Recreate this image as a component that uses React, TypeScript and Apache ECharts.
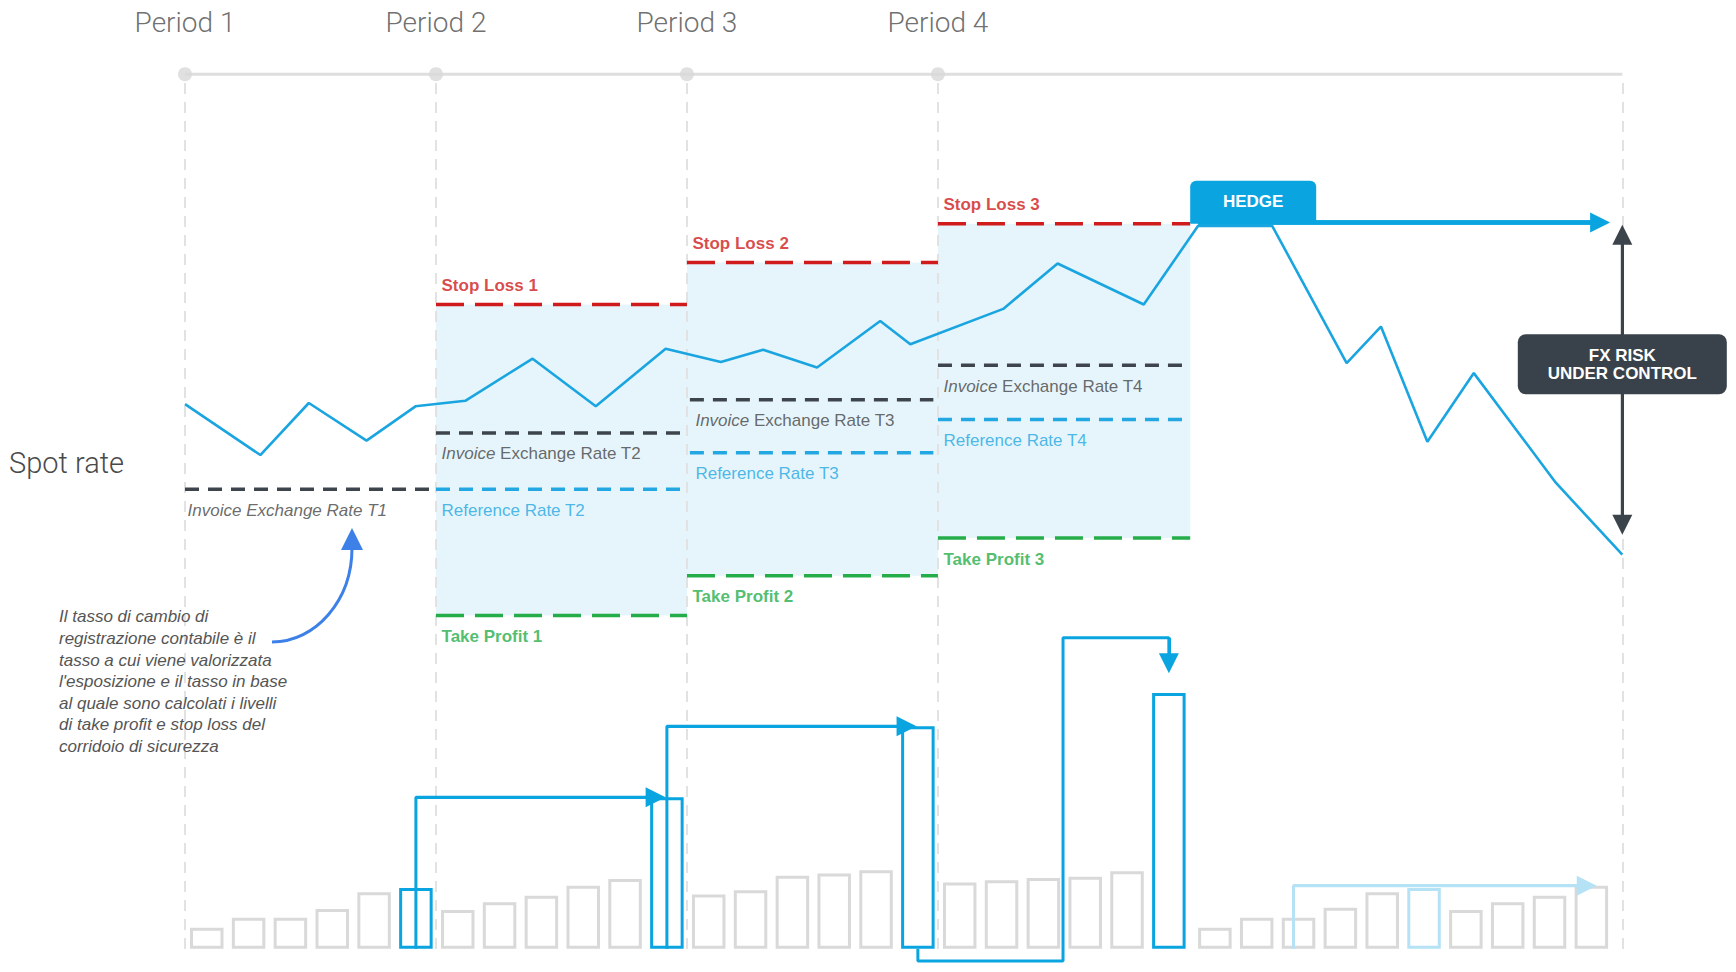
import React, { useEffect, useRef } from "react";
import * as echarts from "echarts";

const W = 1736;
const H = 972;

// hidden axes span the whole canvas
const TIME_MIN = -4.4226;
const TIME_MAX = 37.078;
const RATE_MIN = 1.056405;
const RATE_MAX = 1.1442;
const VOL_MIN = -20.95;
const VOL_MAX = 857;

// ---------- data ----------
const periodLabels = ["Period 1", "Period 2", "Period 3", "Period 4"];
const periodStarts = [0, 6, 12, 18];
const hedgeTime = 24.03;
const horizonEnd = 34.36;
const timelineRate = 1.1375;
const guideTop = 1.1367;
const guideBottom = 1.058;

const spotTimes = [0, 1.8, 2.96, 4.34, 5.51, 6.7, 8.31, 9.82, 11.49, 12.81, 13.82, 15.11, 16.62, 17.34, 19.56, 20.86, 22.92, 24.22, 25.99, 27.77, 28.59, 29.7, 30.81, 32.77, 34.36];
const spotRates = [1.1077, 1.1031, 1.1078, 1.1044, 1.1075, 1.108, 1.1118, 1.1075, 1.1127, 1.1115, 1.1126, 1.111, 1.1152, 1.1131, 1.1163, 1.1204, 1.1167, 1.1238, 1.1238, 1.1114, 1.1147, 1.1043, 1.1105, 1.1006, 1.0941];

const invoiceRates = [1.1, 1.1051, 1.1081, 1.1112]; // T1..T4
const invoiceWindows = [[0, 5.85], [6, 11.86], [12.07, 17.89], [18, 23.9]];
const referenceRates = [1.1, 1.1033, 1.1063]; // T2..T4
const referenceWindows = [[6, 11.86], [12.07, 17.89], [18, 23.9]];
const stopLossRates = [1.1167, 1.1205, 1.124];
const takeProfitRates = [1.0886, 1.0922, 1.0956];
const corridorWindows = [[6, 12], [12, 18], [18, 24.03]];

const volumesBeforeHedge = [19, 28, 28, 36, 51, 55, 35, 42, 48, 57, 63, 137, 49, 53, 66, 68, 71, 201, 60, 62, 64, 65, 70, 231];
const volumesAfterHedge = [19, 28, 28, 37, 51, 55, 35, 42, 48, 57];
const rolloverBars = [5, 11, 17, 23];
const previewBar = 5;

const rollover1 = [[5.52, 0], [5.52, 137], [11.25, 137]];
const rollover2 = [[11.52, 0], [11.52, 201], [17.25, 201]];
const rollover3 = [[17.52, 0], [17.52, -11], [20.99, -11], [20.99, 281], [23.52, 281], [23.52, 258]];
const rolloverPreview = [[26.5, 0], [26.5, 57], [33.51, 57]];

const hedgeArrow = [[24.22, 1.1241], [33.83, 1.1241]];
const riskArrow = [[34.36, 1.0968], [34.36, 1.123]];
const fxBoxRate = 1.1113;

const noteLines = [
  "Il tasso di cambio di",
  "registrazione contabile è il",
  "tasso a cui viene valorizzata",
  "l'esposizione e il tasso in base",
  "al quale sono calcolati i livelli",
  "di take profit e stop loss del",
  "corridoio di sicurezza",
];

// ---------- colours ----------
const BLUE = "#0aa5e0";
const SPOT = "#1aa5e0";
const RED = "#cf1b1b";
const GREEN = "#25ad4a";
const DARK = "#3d444c";
const REF = "#22a7e2";
const GRAY_BAR = "#d9d9d9";
const LIGHT_BLUE = "#b5e2f5";
const FONT = '"Liberation Sans", Arial, sans-serif';

function levelSeries(name: string, windows: number[][], values: number[], color: string, dash: number[]) {
  return values.map((v, i) => ({
    type: "line",
    name: `${name} ${i}`,
    silent: true,
    z: 3,
    data: [[windows[i][0], v], [windows[i][1], v]],
    symbol: "none",
    lineStyle: { color, width: 3.5, type: dash },
  }));
}

function arrowSeries(pts: number[][], color: string, width: number, yAxisIndex: number, both = false) {
  const seg = both ? [pts[0], pts[1]] : [pts[pts.length - 2], pts[pts.length - 1]];
  return {
    type: "line",
    silent: true,
    z: 5,
    yAxisIndex,
    data: pts,
    symbol: "none",
    lineStyle: { color, width },
    markLine: {
      silent: true,
      symbol: both ? ["triangle", "triangle"] : ["none", "triangle"],
      symbolSize: 20,
      label: { show: false },
      emphasis: { disabled: true },
      lineStyle: { color, width, type: "solid" },
      data: [[{ coord: seg[0] }, { coord: seg[1] }]],
    },
  };
}

export default function App() {
  const ref = useRef<HTMLDivElement>(null);

  useEffect(() => {
    document.body.style.margin = "0";
    const chart = echarts.init(ref.current!, null, { renderer: "svg", width: W, height: H });

    const guideTimes = [...periodStarts, horizonEnd];

    const labelData: any[] = [];
    stopLossRates.forEach((r, i) =>
      labelData.push({
        value: [corridorWindows[i][0] + 0.12, r],
        label: { formatter: `Stop Loss ${i + 1}`, color: RED, fontWeight: "bold", offset: [0, -19] },
      })
    );
    invoiceRates.forEach((r, i) =>
      labelData.push({
        value: [i === 0 ? 0.05 : invoiceWindows[i][0] + 0.12, r],
        label:
          i === 0
            ? { formatter: "Invoice Exchange Rate T1", color: "#444", fontStyle: "italic", offset: [0, 21] }
            : {
                formatter: `{i|Invoice} Exchange Rate T${i + 1}`,
                color: "#444",
                offset: [0, 21],
                rich: { i: { fontStyle: "italic", fontSize: 17, fontFamily: FONT, color: "#444" } },
              },
      })
    );
    referenceRates.forEach((r, i) =>
      labelData.push({
        value: [referenceWindows[i][0] + 0.12, r],
        label: { formatter: `Reference Rate T${i + 2}`, color: REF, offset: [0, 21] },
      })
    );
    takeProfitRates.forEach((r, i) =>
      labelData.push({
        value: [corridorWindows[i][0] + 0.12, r],
        label: { formatter: `Take Profit ${i + 1}`, color: GREEN, fontWeight: "bold", offset: [0, 21] },
      })
    );

    const barData: any[] = [];
    volumesBeforeHedge.forEach((v, i) => {
      const hi = rolloverBars.includes(i);
      barData.push({
        value: [i + 0.52, v],
        itemStyle: { color: "rgba(0,0,0,0)", borderColor: hi ? BLUE : GRAY_BAR, borderWidth: 3 },
      });
    });
    volumesAfterHedge.forEach((v, i) => {
      barData.push({
        value: [24.62 + i, v],
        itemStyle: { color: "rgba(0,0,0,0)", borderColor: i === previewBar ? LIGHT_BLUE : GRAY_BAR, borderWidth: 3 },
      });
    });

    const series: any[] = [
      {
        type: "line",
        name: "timeline",
        silent: true,
        z: 1,
        data: [[periodStarts[0], timelineRate], [horizonEnd, timelineRate]],
        symbol: "none",
        lineStyle: { color: "#dedede", width: 3 },
        markArea: {
          silent: true,
          itemStyle: { color: "#e6f5fb" },
          emphasis: { disabled: true },
          data: corridorWindows.map((w, i) => [
            { coord: [w[0], stopLossRates[i]] },
            { coord: [w[1], takeProfitRates[i]] },
          ]),
        },
        markLine: {
          silent: true,
          z: 2,
          symbol: ["none", "none"],
          label: { show: false },
          emphasis: { disabled: true },
          lineStyle: { color: "#e2e2e2", width: 2, type: [11, 8] },
          data: guideTimes.map((t) => [{ coord: [t, guideTop] }, { coord: [t, guideBottom] }]),
        },
      },
      {
        type: "scatter",
        name: "periods",
        silent: true,
        z: 3,
        data: periodStarts.map((t, i) => ({ value: [t, timelineRate], name: periodLabels[i] })),
        symbolSize: 14,
        itemStyle: { color: "#d8d8d8" },
        label: {
          show: true,
          position: "inside",
          offset: [0, -52],
          formatter: "{b}",
          color: "#4a4a4a",
          fontFamily: "Roboto",
          fontWeight: 300,
          fontSize: 28,
        },
      },
      ...levelSeries("stopLoss", corridorWindows, stopLossRates, RED, [28, 11]),
      ...levelSeries("takeProfit", corridorWindows, takeProfitRates, GREEN, [28, 11]),
      ...levelSeries("invoice", invoiceWindows, invoiceRates, DARK, [14, 9]),
      ...levelSeries("reference", referenceWindows, referenceRates, REF, [14, 9]),
      {
        type: "line",
        name: "Spot rate",
        silent: true,
        z: 4,
        data: spotTimes.map((t, i) => [t, spotRates[i]]),
        symbol: "none",
        lineStyle: { color: SPOT, width: 2.6 },
      },
      {
        type: "scatter",
        name: "labels",
        silent: true,
        z: 6,
        symbolSize: 1,
        itemStyle: { color: "rgba(0,0,0,0)" },
        label: { show: true, position: "right", distance: 0, fontFamily: FONT, fontSize: 17 },
        data: labelData,
      },
      {
        type: "bar",
        name: "volumes",
        silent: true,
        z: 2,
        yAxisIndex: 1,
        barWidth: 33.5,
        data: barData,
      },
      arrowSeries(rollover1, BLUE, 3, 1),
      arrowSeries(rollover2, BLUE, 3, 1),
      arrowSeries(rollover3, BLUE, 3, 1),
      arrowSeries(rolloverPreview, LIGHT_BLUE, 3, 1),
      arrowSeries(hedgeArrow, BLUE, 4.5, 0),
      arrowSeries(riskArrow, "#3b434b", 3, 0, true),
    ];

    chart.setOption({
      animation: false,
      backgroundColor: "#ffffff",
      tooltip: { show: false },
      grid: { left: 0, right: 0, top: 0, bottom: 0, containLabel: false },
      xAxis: { type: "value", min: TIME_MIN, max: TIME_MAX, show: false },
      yAxis: [
        { type: "value", min: RATE_MIN, max: RATE_MAX, show: false },
        { type: "value", min: VOL_MIN, max: VOL_MAX, show: false },
      ],
      series,
    });

    const px = (t: number, r: number) => chart.convertToPixel({ gridIndex: 0 }, [t, r]) as number[];
    const hb = px(hedgeTime, stopLossRates[2]);
    const fx = px(horizonEnd, fxBoxRate);

    chart.setOption({
      graphic: [
        {
          type: "text",
          z: 100,
          x: 9,
          y: 463,
          style: { text: "Spot rate", fill: "#4a4a4a", font: "300 29px Roboto", verticalAlign: "middle" },
        },
        {
          type: "text",
          z: 100,
          x: 59,
          y: 606,
          style: {
            text: noteLines.join("\n"),
            fill: "#555",
            font: `italic 17px ${FONT}`,
            lineHeight: 21.6,
            verticalAlign: "top",
          },
        },
        {
          type: "bezierCurve",
          z: 100,
          shape: { x1: 272, y1: 642, cpx1: 316, cpy1: 642, cpx2: 352, cpy2: 600, x2: 352, y2: 548 },
          style: { stroke: "#3c80e8", lineWidth: 3, fill: "none" },
        },
        {
          type: "polygon",
          z: 100,
          shape: { points: [[352, 528], [341, 550], [363, 550]] },
          style: { fill: "#3c80e8" },
        },
        {
          type: "rect",
          z: 100,
          shape: { x: hb[0], y: hb[1] - 43, width: 126, height: 43, r: [6, 6, 0, 0] },
          style: { fill: BLUE },
        },
        {
          type: "text",
          z: 101,
          x: hb[0] + 63,
          y: hb[1] - 22,
          style: { text: "HEDGE", fill: "#fff", font: `bold 17px ${FONT}`, align: "center", verticalAlign: "middle" },
        },
        {
          type: "rect",
          z: 100,
          shape: { x: fx[0] - 104.5, y: fx[1] - 30, width: 209, height: 60, r: 8 },
          style: { fill: "#39424a" },
        },
        {
          type: "text",
          z: 101,
          x: fx[0],
          y: fx[1],
          style: {
            text: "FX RISK\nUNDER CONTROL",
            fill: "#fff",
            font: `bold 17px ${FONT}`,
            lineHeight: 18,
            align: "center",
            verticalAlign: "middle",
          },
        },
      ],
    });

    return () => chart.dispose();
  }, []);

  return (
    <div
      ref={ref}
      style={{ position: "absolute", left: 0, top: 0, width: W, height: H, background: "#fff" }}
    />
  );
}
